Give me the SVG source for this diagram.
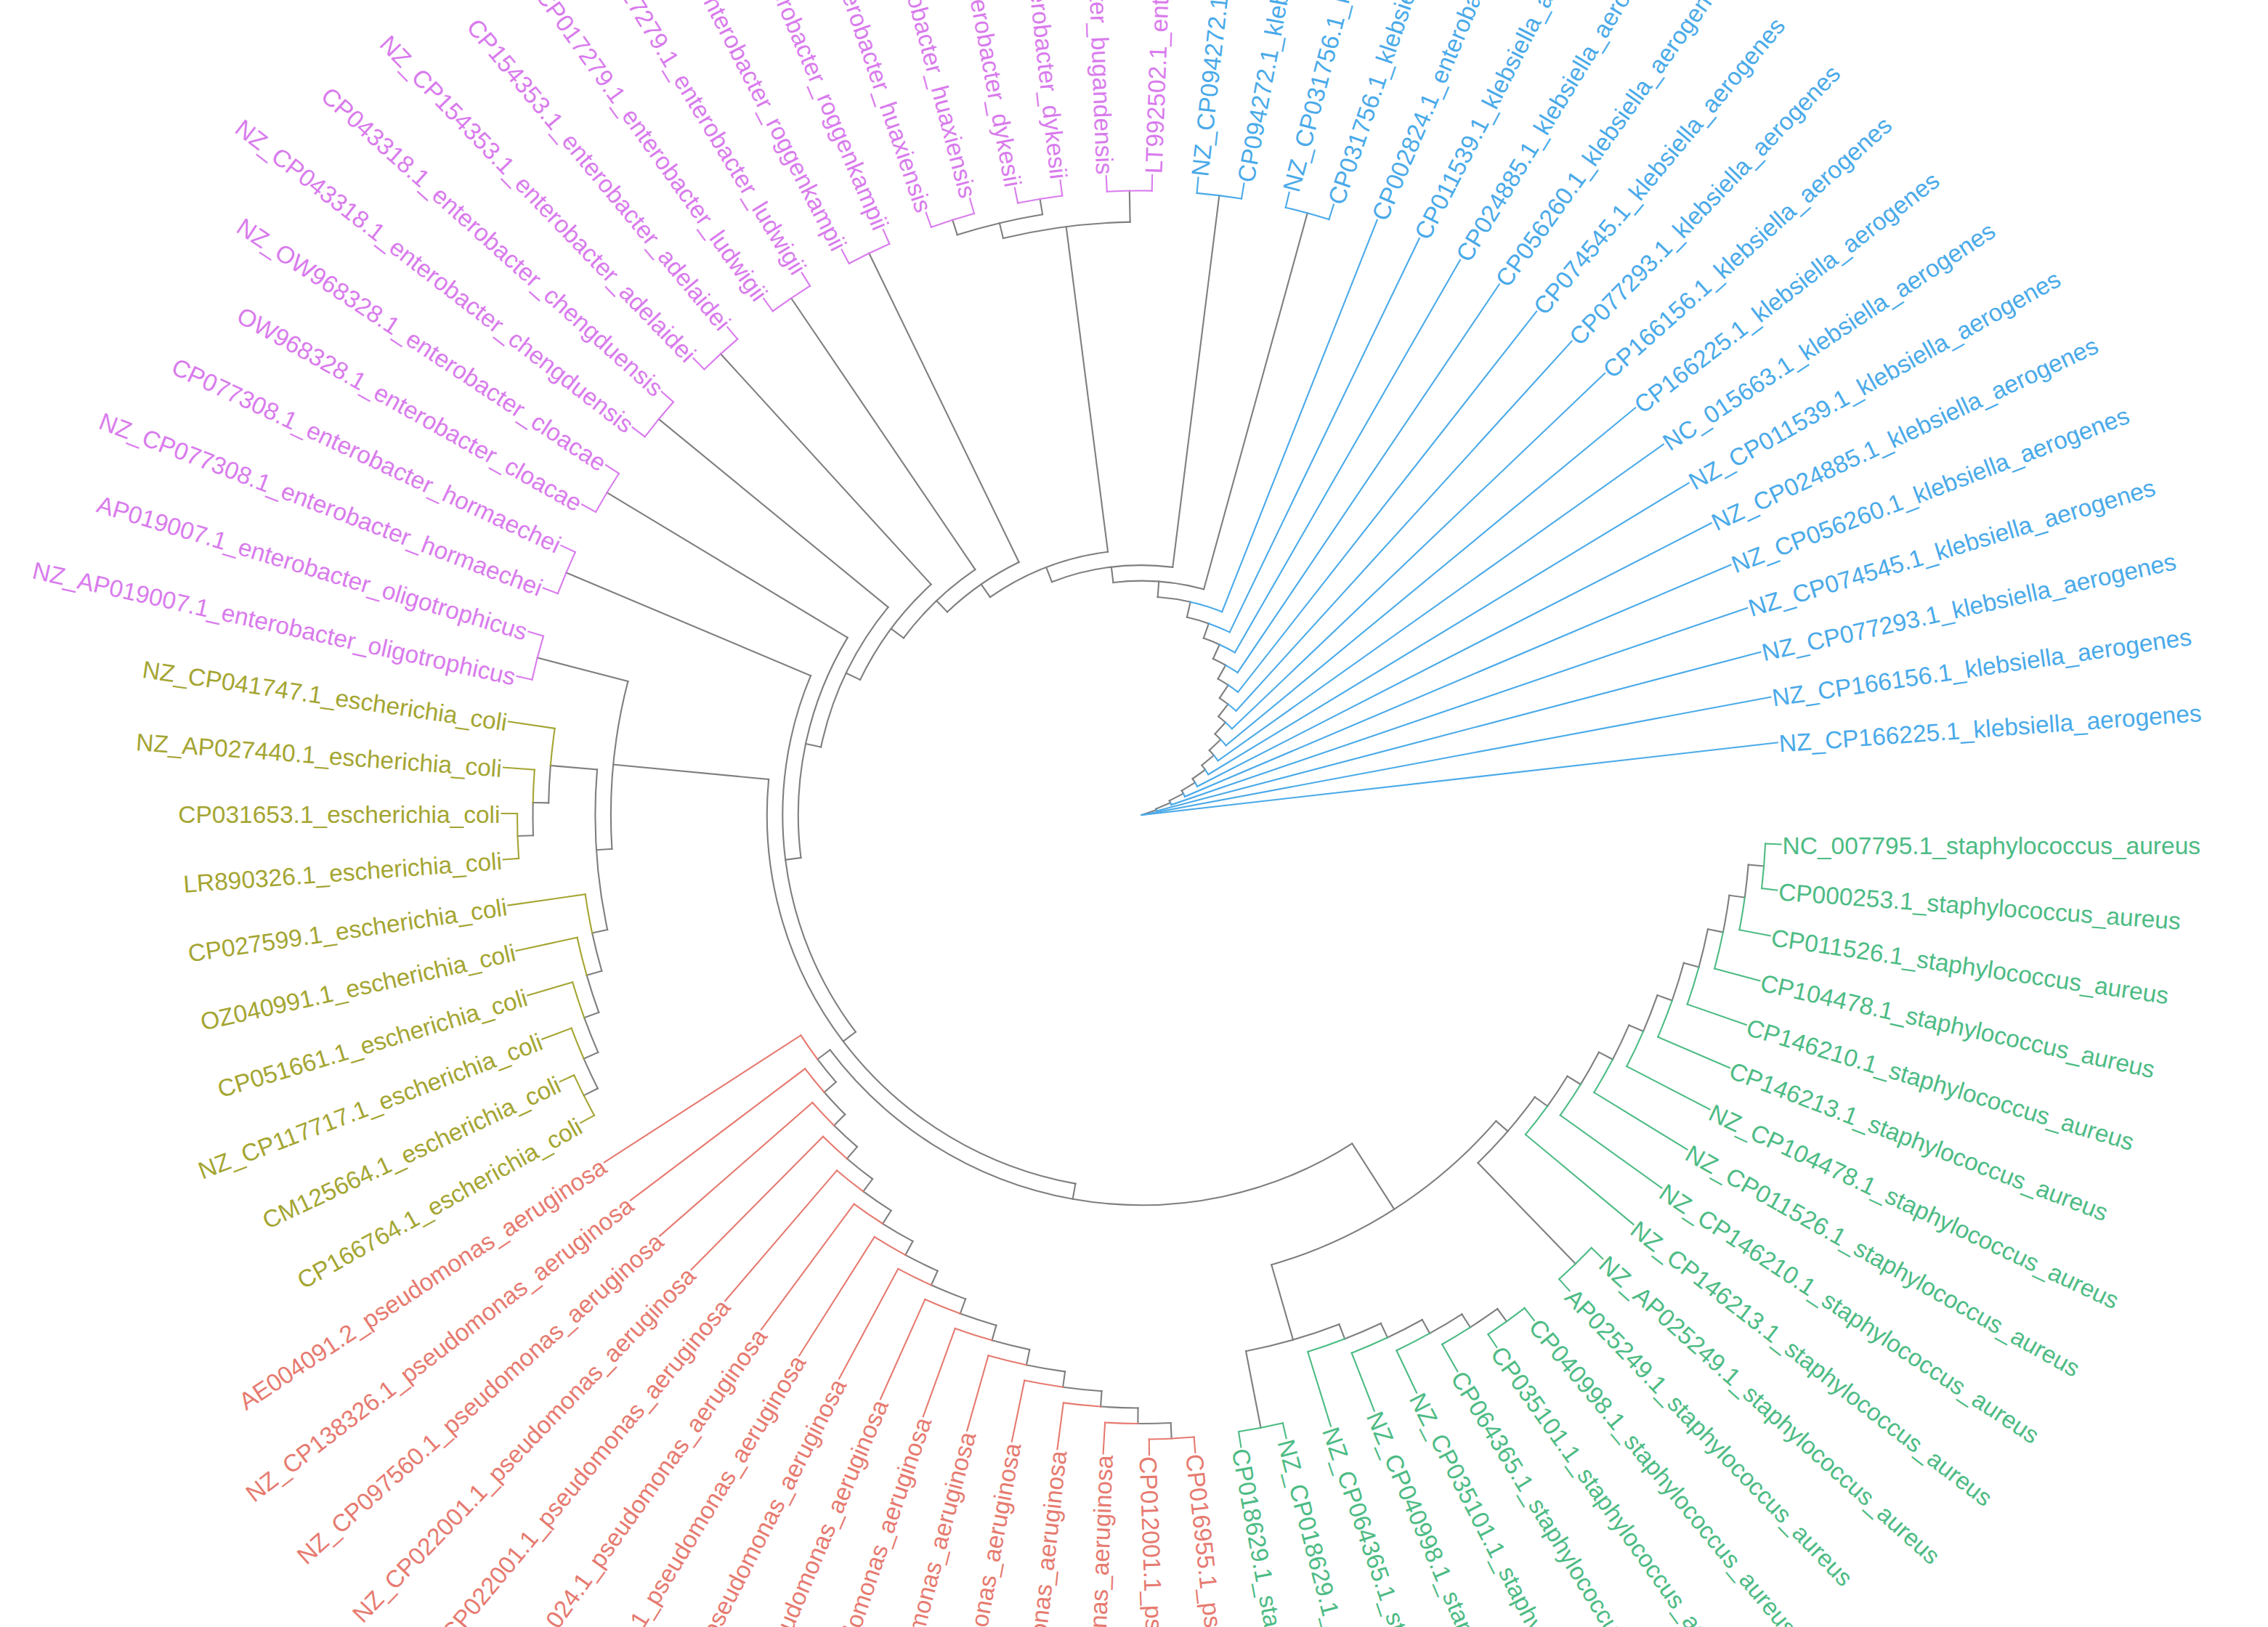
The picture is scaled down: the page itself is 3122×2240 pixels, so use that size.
<svg xmlns="http://www.w3.org/2000/svg" width="3122" height="2240" viewBox="0 0 3122 2240">
<style>
#branches{fill:none;stroke-width:2.1;stroke-linecap:square}
.gy{stroke:#7f7f7f}.sa{stroke:#4dbb84}.ps{stroke:#e67a70}.ec{stroke:#a4a532}.en{stroke:#d97bed}.kl{stroke:#4aaae9}
text{font-family:"Liberation Sans",Arial,Helvetica,sans-serif;font-size:33.5px}
.tsa{fill:#4dbb84}.tps{fill:#e67a70}.tec{fill:#a4a532}.ten{fill:#d97bed}.tkl{fill:#4aaae9}
</style>
<rect width="3122" height="2240" fill="#ffffff"/>
<g id="branches" transform="translate(1571.5 1122)">
<g class="gy">
<circle r="838" pathLength="360" stroke-dasharray="3.096 720" transform="rotate(4.694)"/>
<circle r="816.5" pathLength="360" stroke-dasharray="3.612 720" transform="rotate(7.79)"/>
<circle r="795.1" pathLength="360" stroke-dasharray="3.87 720" transform="rotate(11.402)"/>
<circle r="773.6" pathLength="360" stroke-dasharray="3.999 720" transform="rotate(15.272)"/>
<circle r="752.1" pathLength="360" stroke-dasharray="4.064 720" transform="rotate(19.271)"/>
<circle r="730.6" pathLength="360" stroke-dasharray="4.096 720" transform="rotate(23.335)"/>
<circle r="709.1" pathLength="360" stroke-dasharray="4.112 720" transform="rotate(27.43)"/>
<circle r="687.6" pathLength="360" stroke-dasharray="4.12 720" transform="rotate(31.542)"/>
<circle r="666.1" pathLength="360" stroke-dasharray="10.312 720" transform="rotate(35.662)"/>
<circle r="838" pathLength="360" stroke-dasharray="3.096 720" transform="rotate(54.23)"/>
<circle r="816.5" pathLength="360" stroke-dasharray="3.612 720" transform="rotate(57.326)"/>
<circle r="795.1" pathLength="360" stroke-dasharray="3.87 720" transform="rotate(60.938)"/>
<circle r="773.6" pathLength="360" stroke-dasharray="3.999 720" transform="rotate(64.808)"/>
<circle r="752.1" pathLength="360" stroke-dasharray="10.191 720" transform="rotate(68.807)"/>
<circle r="644.6" pathLength="360" stroke-dasharray="33.085 720" transform="rotate(40.818)"/>
<circle r="838" pathLength="360" stroke-dasharray="3.096 720" transform="rotate(87.254)"/>
<circle r="816.5" pathLength="360" stroke-dasharray="3.612 720" transform="rotate(90.35)"/>
<circle r="795.1" pathLength="360" stroke-dasharray="3.87 720" transform="rotate(93.962)"/>
<circle r="773.6" pathLength="360" stroke-dasharray="3.999 720" transform="rotate(97.832)"/>
<circle r="752.1" pathLength="360" stroke-dasharray="4.064 720" transform="rotate(101.831)"/>
<circle r="730.6" pathLength="360" stroke-dasharray="4.096 720" transform="rotate(105.895)"/>
<circle r="709.1" pathLength="360" stroke-dasharray="4.112 720" transform="rotate(109.99)"/>
<circle r="687.6" pathLength="360" stroke-dasharray="4.12 720" transform="rotate(114.102)"/>
<circle r="666.1" pathLength="360" stroke-dasharray="4.124 720" transform="rotate(118.222)"/>
<circle r="644.6" pathLength="360" stroke-dasharray="4.126 720" transform="rotate(122.346)"/>
<circle r="623.2" pathLength="360" stroke-dasharray="4.127 720" transform="rotate(126.472)"/>
<circle r="601.7" pathLength="360" stroke-dasharray="4.128 720" transform="rotate(130.599)"/>
<circle r="580.2" pathLength="360" stroke-dasharray="4.127 720" transform="rotate(134.727)"/>
<circle r="558.7" pathLength="360" stroke-dasharray="4.128 720" transform="rotate(138.854)"/>
<circle r="537.2" pathLength="360" stroke-dasharray="85.622 720" transform="rotate(57.36)"/>
<circle r="838" pathLength="360" stroke-dasharray="3.096 720" transform="rotate(153.302)"/>
<circle r="816.5" pathLength="360" stroke-dasharray="3.612 720" transform="rotate(156.398)"/>
<circle r="795.1" pathLength="360" stroke-dasharray="3.87 720" transform="rotate(160.01)"/>
<circle r="773.6" pathLength="360" stroke-dasharray="3.999 720" transform="rotate(163.88)"/>
<circle r="838" pathLength="360" stroke-dasharray="3.096 720" transform="rotate(178.07)"/>
<circle r="816.5" pathLength="360" stroke-dasharray="3.612 720" transform="rotate(181.166)"/>
<circle r="752.1" pathLength="360" stroke-dasharray="16.899 720" transform="rotate(167.879)"/>
<circle r="730.6" pathLength="360" stroke-dasharray="18.253 720" transform="rotate(176.329)"/>
<circle r="515.7" pathLength="360" stroke-dasharray="85.284 720" transform="rotate(100.171)"/>
<circle r="838" pathLength="360" stroke-dasharray="8.256 720" transform="rotate(252.374)"/>
<circle r="816.5" pathLength="360" stroke-dasharray="12.384 720" transform="rotate(256.502)"/>
<circle r="494.2" pathLength="360" stroke-dasharray="60.025 720" transform="rotate(142.813)"/>
<circle r="472.7" pathLength="360" stroke-dasharray="38.268 720" transform="rotate(172.826)"/>
<circle r="451.2" pathLength="360" stroke-dasharray="27.39 720" transform="rotate(191.96)"/>
<circle r="429.8" pathLength="360" stroke-dasharray="21.951 720" transform="rotate(205.655)"/>
<circle r="408.3" pathLength="360" stroke-dasharray="19.231 720" transform="rotate(216.631)"/>
<circle r="386.8" pathLength="360" stroke-dasharray="17.872 720" transform="rotate(226.246)"/>
<circle r="365.3" pathLength="360" stroke-dasharray="27.512 720" transform="rotate(235.182)"/>
<circle r="343.8" pathLength="360" stroke-dasharray="28.204 720" transform="rotate(248.938)"/>
<circle r="322.3" pathLength="360" stroke-dasharray="22.358 720" transform="rotate(263.04)"/>
<circle r="300.8" pathLength="360" stroke-dasharray="8.686 720" transform="rotate(274.219)"/>
<circle r="279.3" pathLength="360" stroke-dasharray="6.406 720" transform="rotate(282.905)"/>
<circle r="257.9" pathLength="360" stroke-dasharray="5.268 720" transform="rotate(289.311)"/>
<circle r="236.4" pathLength="360" stroke-dasharray="4.697 720" transform="rotate(294.579)"/>
<circle r="214.9" pathLength="360" stroke-dasharray="4.413 720" transform="rotate(299.276)"/>
<circle r="193.4" pathLength="360" stroke-dasharray="4.271 720" transform="rotate(303.689)"/>
<circle r="171.9" pathLength="360" stroke-dasharray="4.199 720" transform="rotate(307.96)"/>
<circle r="150.4" pathLength="360" stroke-dasharray="4.164 720" transform="rotate(312.159)"/>
<circle r="128.9" pathLength="360" stroke-dasharray="4.145 720" transform="rotate(316.323)"/>
<circle r="107.4" pathLength="360" stroke-dasharray="4.137 720" transform="rotate(320.468)"/>
<circle r="86" pathLength="360" stroke-dasharray="4.133 720" transform="rotate(324.605)"/>
<circle r="64.5" pathLength="360" stroke-dasharray="4.13 720" transform="rotate(328.738)"/>
<circle r="43" pathLength="360" stroke-dasharray="4.129 720" transform="rotate(332.868)"/>
<circle r="21.5" pathLength="360" stroke-dasharray="4.129 720" transform="rotate(336.997)"/>
<path d="M838 0H859.5" transform="rotate(4.694)"/>
<path d="M816.5 0H838" transform="rotate(7.79)"/>
<path d="M795.1 0H816.5" transform="rotate(11.402)"/>
<path d="M773.6 0H795.1" transform="rotate(15.272)"/>
<path d="M752.1 0H773.6" transform="rotate(19.271)"/>
<path d="M730.6 0H752.1" transform="rotate(23.335)"/>
<path d="M709.1 0H730.6" transform="rotate(27.43)"/>
<path d="M687.6 0H709.1" transform="rotate(31.542)"/>
<path d="M666.1 0H687.6" transform="rotate(35.662)"/>
<path d="M666.1 0H859.5" transform="rotate(45.974)"/>
<path d="M644.6 0H666.1" transform="rotate(40.818)"/>
<path d="M838 0H859.5" transform="rotate(54.23)"/>
<path d="M816.5 0H838" transform="rotate(57.326)"/>
<path d="M795.1 0H816.5" transform="rotate(60.938)"/>
<path d="M773.6 0H795.1" transform="rotate(64.808)"/>
<path d="M752.1 0H773.6" transform="rotate(68.807)"/>
<path d="M752.1 0H859.5" transform="rotate(78.998)"/>
<path d="M644.6 0H752.1" transform="rotate(73.903)"/>
<path d="M537.2 0H644.6" transform="rotate(57.36)"/>
<path d="M838 0H859.5" transform="rotate(87.254)"/>
<path d="M816.5 0H838" transform="rotate(90.35)"/>
<path d="M795.1 0H816.5" transform="rotate(93.962)"/>
<path d="M773.6 0H795.1" transform="rotate(97.832)"/>
<path d="M752.1 0H773.6" transform="rotate(101.831)"/>
<path d="M730.6 0H752.1" transform="rotate(105.895)"/>
<path d="M709.1 0H730.6" transform="rotate(109.99)"/>
<path d="M687.6 0H709.1" transform="rotate(114.102)"/>
<path d="M666.1 0H687.6" transform="rotate(118.222)"/>
<path d="M644.6 0H666.1" transform="rotate(122.346)"/>
<path d="M623.2 0H644.6" transform="rotate(126.472)"/>
<path d="M601.7 0H623.2" transform="rotate(130.599)"/>
<path d="M580.2 0H601.7" transform="rotate(134.727)"/>
<path d="M558.7 0H580.2" transform="rotate(138.854)"/>
<path d="M537.2 0H558.7" transform="rotate(142.982)"/>
<path d="M515.7 0H537.2" transform="rotate(100.171)"/>
<path d="M838 0H859.5" transform="rotate(153.302)"/>
<path d="M816.5 0H838" transform="rotate(156.398)"/>
<path d="M795.1 0H816.5" transform="rotate(160.01)"/>
<path d="M773.6 0H795.1" transform="rotate(163.88)"/>
<path d="M752.1 0H773.6" transform="rotate(167.879)"/>
<path d="M838 0H859.5" transform="rotate(178.07)"/>
<path d="M816.5 0H838" transform="rotate(181.166)"/>
<path d="M752.1 0H816.5" transform="rotate(184.778)"/>
<path d="M730.6 0H752.1" transform="rotate(176.329)"/>
<path d="M730.6 0H859.5" transform="rotate(194.582)"/>
<path d="M515.7 0H730.6" transform="rotate(185.455)"/>
<path d="M494.2 0H515.7" transform="rotate(142.813)"/>
<path d="M494.2 0H859.5" transform="rotate(202.838)"/>
<path d="M472.7 0H494.2" transform="rotate(172.826)"/>
<path d="M472.7 0H859.5" transform="rotate(211.094)"/>
<path d="M451.2 0H472.7" transform="rotate(191.96)"/>
<path d="M451.2 0H859.5" transform="rotate(219.35)"/>
<path d="M429.8 0H451.2" transform="rotate(205.655)"/>
<path d="M429.8 0H859.5" transform="rotate(227.606)"/>
<path d="M408.3 0H429.8" transform="rotate(216.631)"/>
<path d="M408.3 0H859.5" transform="rotate(235.862)"/>
<path d="M386.8 0H408.3" transform="rotate(226.246)"/>
<path d="M386.8 0H859.5" transform="rotate(244.118)"/>
<path d="M365.3 0H386.8" transform="rotate(235.182)"/>
<path d="M838 0H859.5" transform="rotate(252.374)"/>
<path d="M838 0H859.5" transform="rotate(260.63)"/>
<path d="M816.5 0H838" transform="rotate(256.502)"/>
<path d="M816.5 0H859.5" transform="rotate(268.886)"/>
<path d="M365.3 0H816.5" transform="rotate(262.694)"/>
<path d="M343.8 0H365.3" transform="rotate(248.938)"/>
<path d="M343.8 0H859.5" transform="rotate(277.142)"/>
<path d="M322.3 0H343.8" transform="rotate(263.04)"/>
<path d="M322.3 0H859.5" transform="rotate(285.398)"/>
<path d="M300.8 0H322.3" transform="rotate(274.219)"/>
<path d="M279.3 0H300.8" transform="rotate(282.905)"/>
<path d="M257.9 0H279.3" transform="rotate(289.311)"/>
<path d="M236.4 0H257.9" transform="rotate(294.579)"/>
<path d="M214.9 0H236.4" transform="rotate(299.276)"/>
<path d="M193.4 0H214.9" transform="rotate(303.689)"/>
<path d="M171.9 0H193.4" transform="rotate(307.96)"/>
<path d="M150.4 0H171.9" transform="rotate(312.159)"/>
<path d="M128.9 0H150.4" transform="rotate(316.323)"/>
<path d="M107.4 0H128.9" transform="rotate(320.468)"/>
<path d="M86 0H107.4" transform="rotate(324.605)"/>
<path d="M64.5 0H86" transform="rotate(328.738)"/>
<path d="M43 0H64.5" transform="rotate(332.868)"/>
<path d="M21.5 0H43" transform="rotate(336.997)"/>
<path d="M0 0H21.5" transform="rotate(341.126)"/>
</g>
<g class="sa">
<circle r="859.5" pathLength="360" stroke-dasharray="4.128 720" transform="rotate(2.63)"/>
<circle r="838" pathLength="360" stroke-dasharray="3.096 720" transform="rotate(7.79)"/>
<circle r="816.5" pathLength="360" stroke-dasharray="3.612 720" transform="rotate(11.402)"/>
<circle r="795.1" pathLength="360" stroke-dasharray="3.87 720" transform="rotate(15.272)"/>
<circle r="773.6" pathLength="360" stroke-dasharray="3.999 720" transform="rotate(19.271)"/>
<circle r="752.1" pathLength="360" stroke-dasharray="4.063 720" transform="rotate(23.335)"/>
<circle r="730.6" pathLength="360" stroke-dasharray="4.096 720" transform="rotate(27.43)"/>
<circle r="709.1" pathLength="360" stroke-dasharray="4.112 720" transform="rotate(31.542)"/>
<circle r="687.6" pathLength="360" stroke-dasharray="4.12 720" transform="rotate(35.662)"/>
<circle r="859.5" pathLength="360" stroke-dasharray="4.128 720" transform="rotate(43.91)"/>
<circle r="859.5" pathLength="360" stroke-dasharray="4.128 720" transform="rotate(52.166)"/>
<circle r="838" pathLength="360" stroke-dasharray="3.096 720" transform="rotate(57.326)"/>
<circle r="816.5" pathLength="360" stroke-dasharray="3.612 720" transform="rotate(60.938)"/>
<circle r="795.1" pathLength="360" stroke-dasharray="3.87 720" transform="rotate(64.808)"/>
<circle r="773.6" pathLength="360" stroke-dasharray="3.999 720" transform="rotate(68.807)"/>
<circle r="859.5" pathLength="360" stroke-dasharray="4.128 720" transform="rotate(76.934)"/>
<path d="M859.5 0H881" transform="rotate(2.63)"/>
<path d="M859.5 0H881" transform="rotate(6.758)"/>
<path d="M838 0H881" transform="rotate(10.886)"/>
<path d="M816.5 0H881" transform="rotate(15.014)"/>
<path d="M795.1 0H881" transform="rotate(19.142)"/>
<path d="M773.6 0H881" transform="rotate(23.27)"/>
<path d="M752.1 0H881" transform="rotate(27.398)"/>
<path d="M730.6 0H881" transform="rotate(31.526)"/>
<path d="M709.1 0H881" transform="rotate(35.654)"/>
<path d="M687.6 0H881" transform="rotate(39.782)"/>
<path d="M859.5 0H881" transform="rotate(43.91)"/>
<path d="M859.5 0H881" transform="rotate(48.038)"/>
<path d="M859.5 0H881" transform="rotate(52.166)"/>
<path d="M859.5 0H881" transform="rotate(56.294)"/>
<path d="M838 0H881" transform="rotate(60.422)"/>
<path d="M816.5 0H881" transform="rotate(64.55)"/>
<path d="M795.1 0H881" transform="rotate(68.678)"/>
<path d="M773.6 0H881" transform="rotate(72.806)"/>
<path d="M859.5 0H881" transform="rotate(76.934)"/>
<path d="M859.5 0H881" transform="rotate(81.062)"/>
</g>
<g class="ps">
<circle r="859.5" pathLength="360" stroke-dasharray="4.128 720" transform="rotate(85.19)"/>
<circle r="838" pathLength="360" stroke-dasharray="3.096 720" transform="rotate(90.35)"/>
<circle r="816.5" pathLength="360" stroke-dasharray="3.612 720" transform="rotate(93.962)"/>
<circle r="795.1" pathLength="360" stroke-dasharray="3.87 720" transform="rotate(97.832)"/>
<circle r="773.6" pathLength="360" stroke-dasharray="3.999 720" transform="rotate(101.831)"/>
<circle r="752.1" pathLength="360" stroke-dasharray="4.063 720" transform="rotate(105.895)"/>
<circle r="730.6" pathLength="360" stroke-dasharray="4.096 720" transform="rotate(109.99)"/>
<circle r="709.1" pathLength="360" stroke-dasharray="4.112 720" transform="rotate(114.102)"/>
<circle r="687.6" pathLength="360" stroke-dasharray="4.12 720" transform="rotate(118.222)"/>
<circle r="666.1" pathLength="360" stroke-dasharray="4.124 720" transform="rotate(122.346)"/>
<circle r="644.6" pathLength="360" stroke-dasharray="4.126 720" transform="rotate(126.472)"/>
<circle r="623.2" pathLength="360" stroke-dasharray="4.127 720" transform="rotate(130.599)"/>
<circle r="601.7" pathLength="360" stroke-dasharray="4.127 720" transform="rotate(134.727)"/>
<circle r="580.2" pathLength="360" stroke-dasharray="4.128 720" transform="rotate(138.854)"/>
<circle r="558.7" pathLength="360" stroke-dasharray="4.128 720" transform="rotate(142.982)"/>
<path d="M859.5 0H881" transform="rotate(85.19)"/>
<path d="M859.5 0H881" transform="rotate(89.318)"/>
<path d="M838 0H881" transform="rotate(93.446)"/>
<path d="M816.5 0H881" transform="rotate(97.574)"/>
<path d="M795.1 0H881" transform="rotate(101.702)"/>
<path d="M773.6 0H881" transform="rotate(105.83)"/>
<path d="M752.1 0H881" transform="rotate(109.958)"/>
<path d="M730.6 0H881" transform="rotate(114.086)"/>
<path d="M709.1 0H881" transform="rotate(118.214)"/>
<path d="M687.6 0H881" transform="rotate(122.342)"/>
<path d="M666.1 0H881" transform="rotate(126.47)"/>
<path d="M644.6 0H881" transform="rotate(130.598)"/>
<path d="M623.2 0H881" transform="rotate(134.726)"/>
<path d="M601.7 0H881" transform="rotate(138.854)"/>
<path d="M580.2 0H881" transform="rotate(142.982)"/>
<path d="M558.7 0H881" transform="rotate(147.11)"/>
</g>
<g class="ec">
<circle r="859.5" pathLength="360" stroke-dasharray="4.128 720" transform="rotate(151.238)"/>
<circle r="838" pathLength="360" stroke-dasharray="3.096 720" transform="rotate(156.398)"/>
<circle r="816.5" pathLength="360" stroke-dasharray="3.612 720" transform="rotate(160.01)"/>
<circle r="795.1" pathLength="360" stroke-dasharray="3.87 720" transform="rotate(163.88)"/>
<circle r="773.6" pathLength="360" stroke-dasharray="3.999 720" transform="rotate(167.879)"/>
<circle r="859.5" pathLength="360" stroke-dasharray="4.128 720" transform="rotate(176.006)"/>
<circle r="838" pathLength="360" stroke-dasharray="3.096 720" transform="rotate(181.166)"/>
<circle r="816.5" pathLength="360" stroke-dasharray="3.612 720" transform="rotate(184.778)"/>
<path d="M859.5 0H881" transform="rotate(151.238)"/>
<path d="M859.5 0H881" transform="rotate(155.366)"/>
<path d="M838 0H881" transform="rotate(159.494)"/>
<path d="M816.5 0H881" transform="rotate(163.622)"/>
<path d="M795.1 0H881" transform="rotate(167.75)"/>
<path d="M773.6 0H881" transform="rotate(171.878)"/>
<path d="M859.5 0H881" transform="rotate(176.006)"/>
<path d="M859.5 0H881" transform="rotate(180.134)"/>
<path d="M838 0H881" transform="rotate(184.262)"/>
<path d="M816.5 0H881" transform="rotate(188.39)"/>
</g>
<g class="en">
<circle r="859.5" pathLength="360" stroke-dasharray="4.128 720" transform="rotate(192.518)"/>
<circle r="859.5" pathLength="360" stroke-dasharray="4.128 720" transform="rotate(200.774)"/>
<circle r="859.5" pathLength="360" stroke-dasharray="4.128 720" transform="rotate(209.03)"/>
<circle r="859.5" pathLength="360" stroke-dasharray="4.128 720" transform="rotate(217.286)"/>
<circle r="859.5" pathLength="360" stroke-dasharray="4.128 720" transform="rotate(225.542)"/>
<circle r="859.5" pathLength="360" stroke-dasharray="4.128 720" transform="rotate(233.798)"/>
<circle r="859.5" pathLength="360" stroke-dasharray="4.128 720" transform="rotate(242.054)"/>
<circle r="859.5" pathLength="360" stroke-dasharray="4.128 720" transform="rotate(250.31)"/>
<circle r="859.5" pathLength="360" stroke-dasharray="4.128 720" transform="rotate(258.566)"/>
<circle r="859.5" pathLength="360" stroke-dasharray="4.128 720" transform="rotate(266.822)"/>
<path d="M859.5 0H881" transform="rotate(192.518)"/>
<path d="M859.5 0H881" transform="rotate(196.646)"/>
<path d="M859.5 0H881" transform="rotate(200.774)"/>
<path d="M859.5 0H881" transform="rotate(204.902)"/>
<path d="M859.5 0H881" transform="rotate(209.03)"/>
<path d="M859.5 0H881" transform="rotate(213.158)"/>
<path d="M859.5 0H881" transform="rotate(217.286)"/>
<path d="M859.5 0H881" transform="rotate(221.414)"/>
<path d="M859.5 0H881" transform="rotate(225.542)"/>
<path d="M859.5 0H881" transform="rotate(229.67)"/>
<path d="M859.5 0H881" transform="rotate(233.798)"/>
<path d="M859.5 0H881" transform="rotate(237.926)"/>
<path d="M859.5 0H881" transform="rotate(242.054)"/>
<path d="M859.5 0H881" transform="rotate(246.182)"/>
<path d="M859.5 0H881" transform="rotate(250.31)"/>
<path d="M859.5 0H881" transform="rotate(254.438)"/>
<path d="M859.5 0H881" transform="rotate(258.566)"/>
<path d="M859.5 0H881" transform="rotate(262.694)"/>
<path d="M859.5 0H881" transform="rotate(266.822)"/>
<path d="M859.5 0H881" transform="rotate(270.95)"/>
</g>
<g class="kl">
<circle r="859.5" pathLength="360" stroke-dasharray="4.128 720" transform="rotate(275.078)"/>
<circle r="859.5" pathLength="360" stroke-dasharray="4.128 720" transform="rotate(283.334)"/>
<circle r="300.8" pathLength="360" stroke-dasharray="8.686 720" transform="rotate(282.905)"/>
<circle r="279.3" pathLength="360" stroke-dasharray="6.407 720" transform="rotate(289.311)"/>
<circle r="257.9" pathLength="360" stroke-dasharray="5.268 720" transform="rotate(294.579)"/>
<circle r="236.4" pathLength="360" stroke-dasharray="4.698 720" transform="rotate(299.276)"/>
<circle r="214.9" pathLength="360" stroke-dasharray="4.413 720" transform="rotate(303.689)"/>
<circle r="193.4" pathLength="360" stroke-dasharray="4.27 720" transform="rotate(307.96)"/>
<circle r="171.9" pathLength="360" stroke-dasharray="4.199 720" transform="rotate(312.159)"/>
<circle r="150.4" pathLength="360" stroke-dasharray="4.164 720" transform="rotate(316.323)"/>
<circle r="128.9" pathLength="360" stroke-dasharray="4.146 720" transform="rotate(320.468)"/>
<circle r="107.4" pathLength="360" stroke-dasharray="4.137 720" transform="rotate(324.605)"/>
<circle r="86" pathLength="360" stroke-dasharray="4.132 720" transform="rotate(328.738)"/>
<circle r="64.5" pathLength="360" stroke-dasharray="4.13 720" transform="rotate(332.868)"/>
<circle r="43" pathLength="360" stroke-dasharray="4.129 720" transform="rotate(336.997)"/>
<circle r="21.5" pathLength="360" stroke-dasharray="4.128 720" transform="rotate(341.126)"/>
<path d="M859.5 0H881" transform="rotate(275.078)"/>
<path d="M859.5 0H881" transform="rotate(279.206)"/>
<path d="M859.5 0H881" transform="rotate(283.334)"/>
<path d="M859.5 0H881" transform="rotate(287.462)"/>
<path d="M300.8 0H881" transform="rotate(291.59)"/>
<path d="M279.3 0H881" transform="rotate(295.718)"/>
<path d="M257.9 0H881" transform="rotate(299.846)"/>
<path d="M236.4 0H881" transform="rotate(303.974)"/>
<path d="M214.9 0H881" transform="rotate(308.102)"/>
<path d="M193.4 0H881" transform="rotate(312.23)"/>
<path d="M171.9 0H881" transform="rotate(316.358)"/>
<path d="M150.4 0H881" transform="rotate(320.486)"/>
<path d="M128.9 0H881" transform="rotate(324.614)"/>
<path d="M107.4 0H881" transform="rotate(328.742)"/>
<path d="M86 0H881" transform="rotate(332.87)"/>
<path d="M64.5 0H881" transform="rotate(336.998)"/>
<path d="M43 0H881" transform="rotate(341.126)"/>
<path d="M21.5 0H881" transform="rotate(345.254)"/>
<path d="M0 0H881" transform="rotate(349.382)"/>
<path d="M0 0H881" transform="rotate(353.51)"/>
</g>
</g>
<g id="labels" transform="translate(1571.5 1122)">
<g id="tip-NC_007795" class="tsa"><text transform="rotate(2.63) translate(883 0) rotate(-2.63)" dy="0.4em">NC_007795.1_staphylococcus_aureus</text></g>
<g id="tip-CP000253" class="tsa"><text transform="rotate(6.758) translate(883 0) rotate(-2.572)" dy="0.4em">CP000253.1_staphylococcus_aureus</text></g>
<g id="tip-CP011526" class="tsa"><text transform="rotate(10.886) translate(883 0) rotate(-2.514)" dy="0.4em">CP011526.1_staphylococcus_aureus</text></g>
<g id="tip-CP104478" class="tsa"><text transform="rotate(15.014) translate(883 0) rotate(-2.456)" dy="0.4em">CP104478.1_staphylococcus_aureus</text></g>
<g id="tip-CP146210" class="tsa"><text transform="rotate(19.142) translate(883 0) rotate(-2.398)" dy="0.4em">CP146210.1_staphylococcus_aureus</text></g>
<g id="tip-CP146213" class="tsa"><text transform="rotate(23.27) translate(883 0) rotate(-2.34)" dy="0.4em">CP146213.1_staphylococcus_aureus</text></g>
<g id="tip-NZ_CP104478" class="tsa"><text transform="rotate(27.398) translate(883 0) rotate(-2.282)" dy="0.4em">NZ_CP104478.1_staphylococcus_aureus</text></g>
<g id="tip-NZ_CP011526" class="tsa"><text transform="rotate(31.526) translate(883 0) rotate(-2.224)" dy="0.4em">NZ_CP011526.1_staphylococcus_aureus</text></g>
<g id="tip-NZ_CP146210" class="tsa"><text transform="rotate(35.654) translate(883 0) rotate(-2.166)" dy="0.4em">NZ_CP146210.1_staphylococcus_aureus</text></g>
<g id="tip-NZ_CP146213" class="tsa"><text transform="rotate(39.782) translate(883 0) rotate(-2.108)" dy="0.4em">NZ_CP146213.1_staphylococcus_aureus</text></g>
<g id="tip-NZ_AP025249" class="tsa"><text transform="rotate(43.91) translate(883 0) rotate(-2.05)" dy="0.4em">NZ_AP025249.1_staphylococcus_aureus</text></g>
<g id="tip-AP025249" class="tsa"><text transform="rotate(48.038) translate(883 0) rotate(-1.991)" dy="0.4em">AP025249.1_staphylococcus_aureus</text></g>
<g id="tip-CP040998" class="tsa"><text transform="rotate(52.166) translate(883 0) rotate(-1.933)" dy="0.4em">CP040998.1_staphylococcus_aureus</text></g>
<g id="tip-CP035101" class="tsa"><text transform="rotate(56.294) translate(883 0) rotate(-1.875)" dy="0.4em">CP035101.1_staphylococcus_aureus</text></g>
<g id="tip-CP064365" class="tsa"><text transform="rotate(60.422) translate(883 0) rotate(-1.817)" dy="0.4em">CP064365.1_staphylococcus_aureus</text></g>
<g id="tip-NZ_CP035101" class="tsa"><text transform="rotate(64.55) translate(883 0) rotate(-1.759)" dy="0.4em">NZ_CP035101.1_staphylococcus_aureus</text></g>
<g id="tip-NZ_CP040998" class="tsa"><text transform="rotate(68.678) translate(883 0) rotate(-1.701)" dy="0.4em">NZ_CP040998.1_staphylococcus_aureus</text></g>
<g id="tip-NZ_CP064365" class="tsa"><text transform="rotate(72.806) translate(883 0) rotate(-1.643)" dy="0.4em">NZ_CP064365.1_staphylococcus_aureus</text></g>
<g id="tip-NZ_CP018629" class="tsa"><text transform="rotate(76.934) translate(883 0) rotate(-1.585)" dy="0.4em">NZ_CP018629.1_staphylococcus_aureus</text></g>
<g id="tip-CP018629" class="tsa"><text transform="rotate(81.062) translate(883 0) rotate(-1.527)" dy="0.4em">CP018629.1_staphylococcus_aureus</text></g>
<g id="tip-CP016955" class="tps"><text transform="rotate(85.19) translate(883 0) rotate(-1.469)" dy="0.4em">CP016955.1_pseudomonas_aeruginosa</text></g>
<g id="tip-CP012001" class="tps"><text transform="rotate(89.318) translate(883 0) rotate(-1.411)" dy="0.4em">CP012001.1_pseudomonas_aeruginosa</text></g>
<g id="tip-pa03" class="tps"><text transform="rotate(93.446) translate(883 0) rotate(178.647)" text-anchor="end" dy="0.4em">pseudomonas_aeruginosa</text></g>
<g id="tip-pa04" class="tps"><text transform="rotate(97.574) translate(883 0) rotate(178.705)" text-anchor="end" dy="0.4em">pseudomonas_aeruginosa</text></g>
<g id="tip-pa05" class="tps"><text transform="rotate(101.702) translate(883 0) rotate(178.763)" text-anchor="end" dy="0.4em">pseudomonas_aeruginosa</text></g>
<g id="tip-pa06" class="tps"><text transform="rotate(105.83) translate(883 0) rotate(178.821)" text-anchor="end" dy="0.4em">pseudomonas_aeruginosa</text></g>
<g id="tip-pa07" class="tps"><text transform="rotate(109.958) translate(883 0) rotate(178.879)" text-anchor="end" dy="0.4em">pseudomonas_aeruginosa</text></g>
<g id="tip-pa08" class="tps"><text transform="rotate(114.086) translate(883 0) rotate(178.937)" text-anchor="end" dy="0.4em">pseudomonas_aeruginosa</text></g>
<g id="tip-pa09" class="tps"><text transform="rotate(118.214) translate(883 0) rotate(178.995)" text-anchor="end" dy="0.4em">pseudomonas_aeruginosa</text></g>
<g id="tip-pa10" class="tps"><text transform="rotate(122.342) translate(883 0) rotate(179.053)" text-anchor="end" dy="0.4em">.1_pseudomonas_aeruginosa</text></g>
<g id="tip-pa11" class="tps"><text transform="rotate(126.47) translate(883 0) rotate(179.111)" text-anchor="end" dy="0.4em">024.1_pseudomonas_aeruginosa</text></g>
<g id="tip-CP022001" class="tps"><text transform="rotate(130.598) translate(883 0) rotate(179.169)" text-anchor="end" dy="0.4em">CP022001.1_pseudomonas_aeruginosa</text></g>
<g id="tip-NZ_CP022001" class="tps"><text transform="rotate(134.726) translate(883 0) rotate(179.228)" text-anchor="end" dy="0.4em">NZ_CP022001.1_pseudomonas_aeruginosa</text></g>
<g id="tip-NZ_CP097560" class="tps"><text transform="rotate(138.854) translate(883 0) rotate(179.286)" text-anchor="end" dy="0.4em">NZ_CP097560.1_pseudomonas_aeruginosa</text></g>
<g id="tip-NZ_CP138326" class="tps"><text transform="rotate(142.982) translate(883 0) rotate(179.344)" text-anchor="end" dy="0.4em">NZ_CP138326.1_pseudomonas_aeruginosa</text></g>
<g id="tip-AE004091" class="tps"><text transform="rotate(147.11) translate(883 0) rotate(179.402)" text-anchor="end" dy="0.4em">AE004091.2_pseudomonas_aeruginosa</text></g>
<g id="tip-CP166764" class="tec"><text transform="rotate(151.238) translate(883 0) rotate(179.46)" text-anchor="end" dy="0.4em">CP166764.1_escherichia_coli</text></g>
<g id="tip-CM125664" class="tec"><text transform="rotate(155.366) translate(883 0) rotate(179.518)" text-anchor="end" dy="0.4em">CM125664.1_escherichia_coli</text></g>
<g id="tip-NZ_CP117717" class="tec"><text transform="rotate(159.494) translate(883 0) rotate(179.576)" text-anchor="end" dy="0.4em">NZ_CP117717.1_escherichia_coli</text></g>
<g id="tip-CP051661" class="tec"><text transform="rotate(163.622) translate(883 0) rotate(179.634)" text-anchor="end" dy="0.4em">CP051661.1_escherichia_coli</text></g>
<g id="tip-OZ040991" class="tec"><text transform="rotate(167.75) translate(883 0) rotate(179.692)" text-anchor="end" dy="0.4em">OZ040991.1_escherichia_coli</text></g>
<g id="tip-CP027599" class="tec"><text transform="rotate(171.878) translate(883 0) rotate(179.75)" text-anchor="end" dy="0.4em">CP027599.1_escherichia_coli</text></g>
<g id="tip-LR890326" class="tec"><text transform="rotate(176.006) translate(883 0) rotate(179.808)" text-anchor="end" dy="0.4em">LR890326.1_escherichia_coli</text></g>
<g id="tip-CP031653" class="tec"><text transform="rotate(180.134) translate(883 0) rotate(179.866)" text-anchor="end" dy="0.4em">CP031653.1_escherichia_coli</text></g>
<g id="tip-NZ_AP027440" class="tec"><text transform="rotate(184.262) translate(883 0) rotate(179.924)" text-anchor="end" dy="0.4em">NZ_AP027440.1_escherichia_coli</text></g>
<g id="tip-NZ_CP041747" class="tec"><text transform="rotate(188.39) translate(883 0) rotate(179.982)" text-anchor="end" dy="0.4em">NZ_CP041747.1_escherichia_coli</text></g>
<g id="tip-NZ_AP019007" class="ten"><text transform="rotate(192.518) translate(883 0) rotate(180.04)" text-anchor="end" dy="0.4em">NZ_AP019007.1_enterobacter_oligotrophicus</text></g>
<g id="tip-AP019007" class="ten"><text transform="rotate(196.646) translate(883 0) rotate(180.098)" text-anchor="end" dy="0.4em">AP019007.1_enterobacter_oligotrophicus</text></g>
<g id="tip-NZ_CP077308" class="ten"><text transform="rotate(200.774) translate(883 0) rotate(180.156)" text-anchor="end" dy="0.4em">NZ_CP077308.1_enterobacter_hormaechei</text></g>
<g id="tip-CP077308" class="ten"><text transform="rotate(204.902) translate(883 0) rotate(180.214)" text-anchor="end" dy="0.4em">CP077308.1_enterobacter_hormaechei</text></g>
<g id="tip-OW968328" class="ten"><text transform="rotate(209.03) translate(883 0) rotate(180.272)" text-anchor="end" dy="0.4em">OW968328.1_enterobacter_cloacae</text></g>
<g id="tip-NZ_OW968328" class="ten"><text transform="rotate(213.158) translate(883 0) rotate(180.33)" text-anchor="end" dy="0.4em">NZ_OW968328.1_enterobacter_cloacae</text></g>
<g id="tip-NZ_CP043318" class="ten"><text transform="rotate(217.286) translate(883 0) rotate(180.389)" text-anchor="end" dy="0.4em">NZ_CP043318.1_enterobacter_chengduensis</text></g>
<g id="tip-CP043318" class="ten"><text transform="rotate(221.414) translate(883 0) rotate(180.447)" text-anchor="end" dy="0.4em">CP043318.1_enterobacter_chengduensis</text></g>
<g id="tip-NZ_CP154353" class="ten"><text transform="rotate(225.542) translate(883 0) rotate(180.505)" text-anchor="end" dy="0.4em">NZ_CP154353.1_enterobacter_adelaidei</text></g>
<g id="tip-CP154353" class="ten"><text transform="rotate(229.67) translate(883 0) rotate(180.563)" text-anchor="end" dy="0.4em">CP154353.1_enterobacter_adelaidei</text></g>
<g id="tip-NZ_CP017279" class="ten"><text transform="rotate(233.798) translate(883 0) rotate(180.621)" text-anchor="end" dy="0.4em">NZ_CP017279.1_enterobacter_ludwigii</text></g>
<g id="tip-CP017279" class="ten"><text transform="rotate(237.926) translate(883 0) rotate(180.679)" text-anchor="end" dy="0.4em">CP017279.1_enterobacter_ludwigii</text></g>
<g id="tip-roggenkampii-a" class="ten"><text transform="rotate(242.054) translate(883 0) rotate(180.737)" text-anchor="end" dy="0.4em">enterobacter_roggenkampii</text></g>
<g id="tip-roggenkampii-b" class="ten"><text transform="rotate(246.182) translate(883 0) rotate(180.795)" text-anchor="end" dy="0.4em">enterobacter_roggenkampii</text></g>
<g id="tip-huaxiensis-a" class="ten"><text transform="rotate(250.31) translate(883 0) rotate(180.853)" text-anchor="end" dy="0.4em">enterobacter_huaxiensis</text></g>
<g id="tip-huaxiensis-b" class="ten"><text transform="rotate(254.438) translate(883 0) rotate(180.911)" text-anchor="end" dy="0.4em">enterobacter_huaxiensis</text></g>
<g id="tip-dykesii-a" class="ten"><text transform="rotate(258.566) translate(883 0) rotate(180.969)" text-anchor="end" dy="0.4em">enterobacter_dykesii</text></g>
<g id="tip-dykesii-b" class="ten"><text transform="rotate(262.694) translate(883 0) rotate(181.027)" text-anchor="end" dy="0.4em">enterobacter_dykesii</text></g>
<g id="tip-bugandensis" class="ten"><text transform="rotate(266.822) translate(883 0) rotate(181.085)" text-anchor="end" dy="0.4em">enterobacter_bugandensis</text></g>
<g id="tip-LT992502" class="ten"><text transform="rotate(270.95) translate(883 0) rotate(1.143)" dy="0.4em">LT992502.1_enterobacter_bugandensis</text></g>
<g id="tip-NZ_CP094272" class="tkl"><text transform="rotate(275.078) translate(883 0) rotate(1.201)" dy="0.4em">NZ_CP094272.1_klebsiella_aerogenes</text></g>
<g id="tip-CP094272" class="tkl"><text transform="rotate(279.206) translate(883 0) rotate(1.259)" dy="0.4em">CP094272.1_klebsiella_aerogenes</text></g>
<g id="tip-NZ_CP031756" class="tkl"><text transform="rotate(283.334) translate(883 0) rotate(1.317)" dy="0.4em">NZ_CP031756.1_klebsiella_aerogenes</text></g>
<g id="tip-CP031756" class="tkl"><text transform="rotate(287.462) translate(883 0) rotate(1.375)" dy="0.4em">CP031756.1_klebsiella_aerogenes</text></g>
<g id="tip-CP002824" class="tkl"><text transform="rotate(291.59) translate(883 0) rotate(1.433)" dy="0.4em">CP002824.1_enterobacter_aerogenes</text></g>
<g id="tip-CP011539" class="tkl"><text transform="rotate(295.718) translate(883 0) rotate(1.491)" dy="0.4em">CP011539.1_klebsiella_aerogenes</text></g>
<g id="tip-CP024885" class="tkl"><text transform="rotate(299.846) translate(883 0) rotate(1.55)" dy="0.4em">CP024885.1_klebsiella_aerogenes</text></g>
<g id="tip-CP056260" class="tkl"><text transform="rotate(303.974) translate(883 0) rotate(1.608)" dy="0.4em">CP056260.1_klebsiella_aerogenes</text></g>
<g id="tip-CP074545" class="tkl"><text transform="rotate(308.102) translate(883 0) rotate(1.666)" dy="0.4em">CP074545.1_klebsiella_aerogenes</text></g>
<g id="tip-CP077293" class="tkl"><text transform="rotate(312.23) translate(883 0) rotate(1.724)" dy="0.4em">CP077293.1_klebsiella_aerogenes</text></g>
<g id="tip-CP166156" class="tkl"><text transform="rotate(316.358) translate(883 0) rotate(1.782)" dy="0.4em">CP166156.1_klebsiella_aerogenes</text></g>
<g id="tip-CP166225" class="tkl"><text transform="rotate(320.486) translate(883 0) rotate(1.84)" dy="0.4em">CP166225.1_klebsiella_aerogenes</text></g>
<g id="tip-NC_015663" class="tkl"><text transform="rotate(324.614) translate(883 0) rotate(1.898)" dy="0.4em">NC_015663.1_klebsiella_aerogenes</text></g>
<g id="tip-NZ_CP011539" class="tkl"><text transform="rotate(328.742) translate(883 0) rotate(1.956)" dy="0.4em">NZ_CP011539.1_klebsiella_aerogenes</text></g>
<g id="tip-NZ_CP024885" class="tkl"><text transform="rotate(332.87) translate(883 0) rotate(2.014)" dy="0.4em">NZ_CP024885.1_klebsiella_aerogenes</text></g>
<g id="tip-NZ_CP056260" class="tkl"><text transform="rotate(336.998) translate(883 0) rotate(2.072)" dy="0.4em">NZ_CP056260.1_klebsiella_aerogenes</text></g>
<g id="tip-NZ_CP074545" class="tkl"><text transform="rotate(341.126) translate(883 0) rotate(2.13)" dy="0.4em">NZ_CP074545.1_klebsiella_aerogenes</text></g>
<g id="tip-NZ_CP077293" class="tkl"><text transform="rotate(345.254) translate(883 0) rotate(2.188)" dy="0.4em">NZ_CP077293.1_klebsiella_aerogenes</text></g>
<g id="tip-NZ_CP166156" class="tkl"><text transform="rotate(349.382) translate(883 0) rotate(2.246)" dy="0.4em">NZ_CP166156.1_klebsiella_aerogenes</text></g>
<g id="tip-NZ_CP166225" class="tkl"><text transform="rotate(353.51) translate(883 0) rotate(2.304)" dy="0.4em">NZ_CP166225.1_klebsiella_aerogenes</text></g>
</g>
</svg>
